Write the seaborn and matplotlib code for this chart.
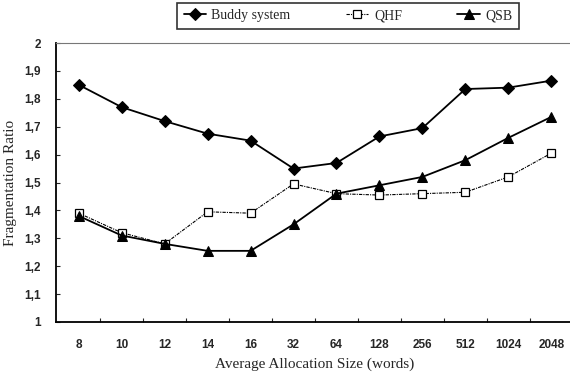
import pandas as pd
import matplotlib
matplotlib.use("Agg")
import matplotlib.pyplot as plt
import seaborn as sns
from matplotlib.ticker import FixedLocator

# Data
sizes = ["8", "10", "12", "14", "16", "32", "64", "128", "256", "512", "1024", "2048"]
buddy = [1.85, 1.77, 1.72, 1.675, 1.65, 1.55, 1.57, 1.665, 1.695, 1.835, 1.84, 1.865]
qhf = [1.39, 1.32, 1.28, 1.395, 1.39, 1.495, 1.46, 1.455, 1.46, 1.465, 1.52, 1.605]
qsb = [1.38, 1.31, 1.28, 1.255, 1.255, 1.35, 1.46, 1.49, 1.52, 1.58, 1.66, 1.735]
y_ticks = [1, 1.1, 1.2, 1.3, 1.4, 1.5, 1.6, 1.7, 1.8, 1.9, 2]
y_labels = ["1", "1,1", "1,2", "1,3", "1,4", "1,5", "1,6", "1,7", "1,8", "1,9", "2"]

pos = list(range(len(sizes)))
df = pd.DataFrame({"pos": pos, "Buddy system": buddy, "QHF": qhf, "QSB": qsb})

sns.set_style("white")
plt.rcParams["font.family"] = ["Liberation Serif", "DejaVu Serif"]

fig = plt.figure(figsize=(5.7, 3.76), dpi=100)
ax = fig.add_axes([56 / 570, 54 / 376, 518 / 570, 279 / 376])

sns.lineplot(data=df, x="pos", y="Buddy system", ax=ax, color="black", lw=1.3,
             marker="D", markersize=6, markerfacecolor="black", markeredgecolor="black",
             label="Buddy system")
sns.lineplot(data=df, x="pos", y="QHF", ax=ax, color="black", lw=0.8,
             linestyle=(0, (3, 1, 1, 1)), marker="s", markersize=5.5,
             markerfacecolor="white", markeredgecolor="black", markeredgewidth=0.9,
             label="QHF")
sns.lineplot(data=df, x="pos", y="QSB", ax=ax, color="black", lw=1.3,
             marker="^", markersize=7, markerfacecolor="black", markeredgecolor="black",
             label="QSB")

ax.set_xlim(-0.53, len(sizes) - 0.47)
ax.set_ylim(1, 2)
ax.set_xticks(pos)
ax.set_xticklabels(sizes, fontfamily="Liberation Sans", fontweight="bold", fontsize=8.5)
ax.xaxis.set_minor_locator(FixedLocator([p + 0.5 for p in pos]))
ax.tick_params(axis="x", which="major", length=0, pad=12)
ax.tick_params(axis="x", which="minor", length=3, width=0.8, direction="in", bottom=True)
ax.set_yticks(y_ticks)
ax.set_yticklabels(y_labels, fontfamily="Liberation Sans", fontweight="bold", fontsize=8.5)
ax.tick_params(axis="y", length=3, width=0.8, direction="in", left=True, pad=11)

ax.set_xlabel("Average Allocation Size (words)", fontsize=11, labelpad=5)
ax.set_ylabel("Fragmentation Ratio", fontsize=11, labelpad=5)

for s in ["left", "bottom"]:
    ax.spines[s].set_color("black")
    ax.spines[s].set_linewidth(1.3)
ax.spines["top"].set_color("#777777")
ax.spines["top"].set_linestyle((0, (1, 1)))
ax.spines["top"].set_linewidth(0.8)
ax.spines["right"].set_visible(False)

handles, labels = ax.get_legend_handles_labels()
ax.get_legend().remove()
leg = fig.legend(handles, labels, loc="upper center", bbox_to_anchor=(348 / 570, 1 - 3 / 376),
                 ncol=3, frameon=True, fancybox=False, edgecolor="black", fontsize=10,
                 handlelength=1.6, columnspacing=4.0, handletextpad=0.4,
                 borderpad=0.45, borderaxespad=0)
leg.get_frame().set_linewidth(1.2)

fig.savefig("out.png", dpi=100)
